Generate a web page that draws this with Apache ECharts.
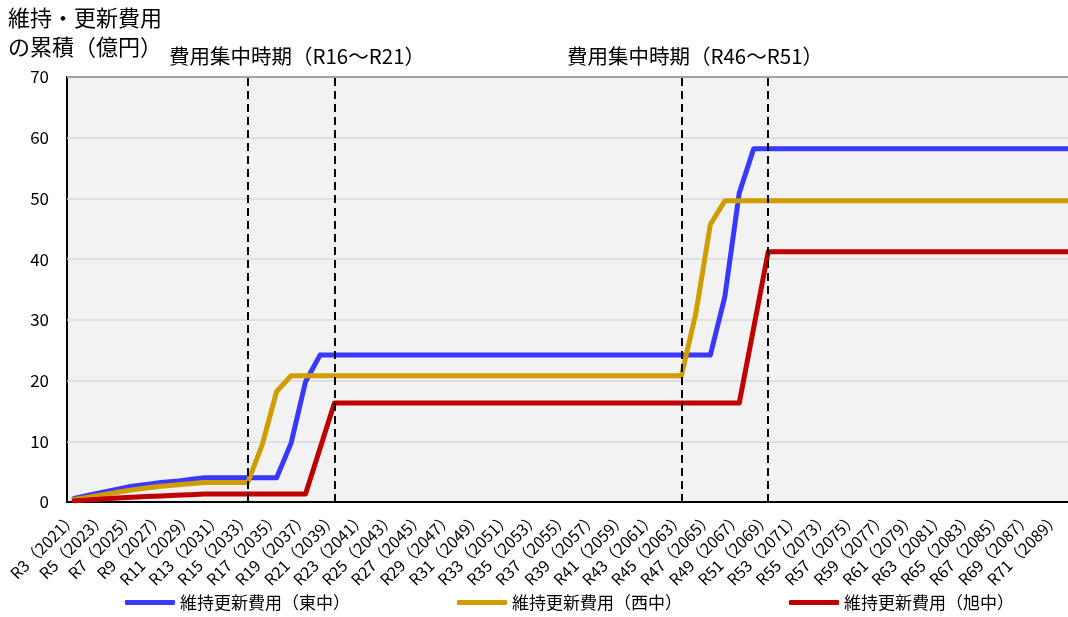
<!DOCTYPE html>
<html>
<head>
<meta charset="utf-8">
<script src="https://cdn.jsdelivr.net/npm/echarts@6/dist/echarts.min.js"></script>
<style>
html,body{margin:0;padding:0;background:#fff;overflow:hidden;width:1068px;height:617px;}
#c{width:1079px;height:617px;}
</style>
</head>
<body>
<div id="c"></div>
<script>
const categories = [
 'R3（2021）','R4（2022）','R5（2023）','R6（2024）','R7（2025）','R8（2026）','R9（2027）','R10（2028）',
 'R11（2029）','R12（2030）','R13（2031）','R14（2032）','R15（2033）','R16（2034）','R17（2035）','R18（2036）',
 'R19（2037）','R20（2038）','R21（2039）','R22（2040）','R23（2041）','R24（2042）','R25（2043）','R26（2044）',
 'R27（2045）','R28（2046）','R29（2047）','R30（2048）','R31（2049）','R32（2050）','R33（2051）','R34（2052）',
 'R35（2053）','R36（2054）','R37（2055）','R38（2056）','R39（2057）','R40（2058）','R41（2059）','R42（2060）',
 'R43（2061）','R44（2062）','R45（2063）','R46（2064）','R47（2065）','R48（2066）','R49（2067）','R50（2068）',
 'R51（2069）','R52（2070）','R53（2071）','R54（2072）','R55（2073）','R56（2074）','R57（2075）','R58（2076）',
 'R59（2077）','R60（2078）','R61（2079）','R62（2080）','R63（2081）','R64（2082）','R65（2083）','R66（2084）',
 'R67（2085）','R68（2086）','R69（2087）','R70（2088）','R71（2089）','R72（2090）'
];
// 維持更新費用（東中）
const eastValues = [
 0.6,1.1,1.6,2.1,2.6,2.9,3.2,3.4,3.7,4.0,
 4.0,4.0,4.0,4.0,4.0,9.7,19.8,24.2,24.2,24.2,
 24.2,24.2,24.2,24.2,24.2,24.2,24.2,24.2,24.2,24.2,
 24.2,24.2,24.2,24.2,24.2,24.2,24.2,24.2,24.2,24.2,
 24.2,24.2,24.2,24.2,24.2,33.8,50.9,58.2,58.2,58.2,
 58.2,58.2,58.2,58.2,58.2,58.2,58.2,58.2,58.2,58.2,
 58.2,58.2,58.2,58.2,58.2,58.2,58.2,58.2,58.2,58.2
];
// 維持更新費用（西中）
const westValues = [
 0.4,0.8,1.2,1.6,2.0,2.3,2.6,2.8,3.0,3.2,
 3.2,3.2,3.2,9.4,18.2,20.8,20.8,20.8,20.8,20.8,
 20.8,20.8,20.8,20.8,20.8,20.8,20.8,20.8,20.8,20.8,
 20.8,20.8,20.8,20.8,20.8,20.8,20.8,20.8,20.8,20.8,
 20.8,20.8,20.8,31.1,45.7,49.6,49.6,49.6,49.6,49.6,
 49.6,49.6,49.6,49.6,49.6,49.6,49.6,49.6,49.6,49.6,
 49.6,49.6,49.6,49.6,49.6,49.6,49.6,49.6,49.6,49.6
];
// 維持更新費用（旭中）
const asahiValues = [
 0.2,0.35,0.5,0.65,0.8,0.9,1.0,1.1,1.2,1.3,
 1.3,1.3,1.3,1.3,1.3,1.3,1.3,8.8,16.3,16.3,
 16.3,16.3,16.3,16.3,16.3,16.3,16.3,16.3,16.3,16.3,
 16.3,16.3,16.3,16.3,16.3,16.3,16.3,16.3,16.3,16.3,
 16.3,16.3,16.3,16.3,16.3,16.3,16.3,28.7,41.2,41.2,
 41.2,41.2,41.2,41.2,41.2,41.2,41.2,41.2,41.2,41.2,
 41.2,41.2,41.2,41.2,41.2,41.2,41.2,41.2,41.2,41.2
];
const seriesNames = ['維持更新費用（東中）','維持更新費用（西中）','維持更新費用（旭中）'];
const periodLines = ['R15（2033）','R21（2039）','R45（2063）','R51（2069）'];
const periodTexts = ['費用集中時期（R16～R21）','費用集中時期（R46～R51）'];
const yAxisTitle = ['維持・更新費用','の累積（億円）'];

const JP = '"Noto Sans CJK JP","Noto Sans",sans-serif';
const chart = echarts.init(document.getElementById('c'), null, {renderer:'canvas'});
const lineStyleBase = {width:5, cap:'round', join:'round'};
chart.setOption({
  animation:false,
  textStyle:{fontFamily:JP, color:'#000'},
  grid:{left:67, right:0, top:77, bottom:115, show:true, backgroundColor:'#f2f2f2', borderColor:'#000', borderWidth:2},
  graphic:[
    {type:'text', left:8, top:7, style:{text:yAxisTitle[0], font:'22px '+JP, fill:'#000'}},
    {type:'text', left:8, top:36, style:{text:yAxisTitle[1], font:'22px '+JP, fill:'#000'}},
    {type:'text', x:297, y:56, style:{text:periodTexts[0], font:'20.5px '+JP, fill:'#000', align:'center', verticalAlign:'middle'}},
    {type:'text', x:695, y:56, style:{text:periodTexts[1], font:'20.5px '+JP, fill:'#000', align:'center', verticalAlign:'middle'}}
  ],
  legend:{
    left:120, top:589, width:1000, itemWidth:50, itemHeight:5, itemGap:107, icon:'roundRect',
    textStyle:{fontSize:17, fontFamily:JP, color:'#000'},
    data:seriesNames
  },
  xAxis:{
    type:'category', data:categories, boundaryGap:true,
    axisLine:{show:true, lineStyle:{color:'#000', width:2}},
    axisTick:{show:false},
    axisLabel:{interval:1, rotate:45, fontSize:16, color:'#000', margin:13, fontFamily:JP},
    splitLine:{show:false}
  },
  yAxis:{
    type:'value', min:0, max:70, interval:10,
    axisLine:{show:false}, axisTick:{show:false},
    axisLabel:{fontSize:17, color:'#000', margin:18, fontFamily:'"Liberation Sans Narrow","Noto Sans CJK JP",sans-serif'},
    splitLine:{lineStyle:{color:'#d9d9d9', width:1.5}}
  },
  series:[
    {name:seriesNames[0], type:'line', data:eastValues, symbol:'none', color:'#3838ff',
     lineStyle:Object.assign({color:'#3838ff'}, lineStyleBase),
     markLine:{silent:true, symbol:['none','none'], label:{show:false},
       lineStyle:{color:'#000', type:[8,5], width:2},
       data:periodLines.map(v=>({xAxis:v}))}},
    {name:seriesNames[1], type:'line', data:westValues, symbol:'none', color:'#d09d00',
     lineStyle:Object.assign({color:'#d09d00'}, lineStyleBase)},
    {name:seriesNames[2], type:'line', data:asahiValues, symbol:'none', color:'#c00000',
     lineStyle:Object.assign({color:'#c00000'}, lineStyleBase)}
  ]
});
</script>
</body>
</html>
